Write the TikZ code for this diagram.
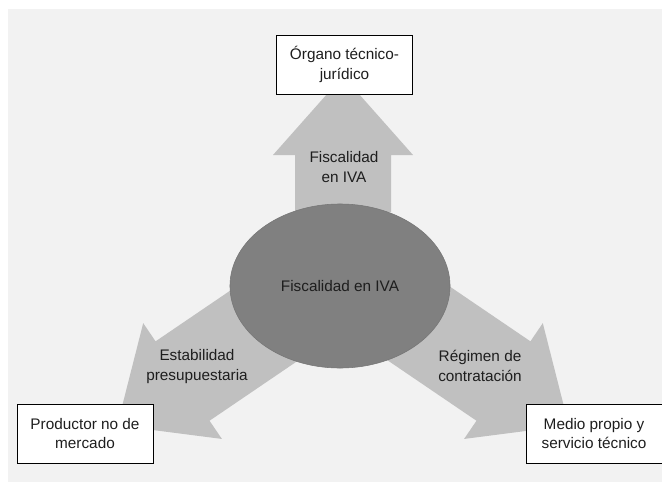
\documentclass[tikz,border=0pt]{standalone}
\usepackage{fontspec}
\setmainfont{Liberation Sans}
\usetikzlibrary{shapes.geometric}
\definecolor{paneback}{RGB}{242,242,242}
\definecolor{flowgray}{RGB}{192,192,192}
\definecolor{hubgray}{RGB}{128,128,128}
\definecolor{inkgray}{RGB}{30,30,30}

\begin{document}
\begin{tikzpicture}[x=0.025cm, y=0.025cm,
  every node/.style={font=\fontsize{10.9}{14.2}\selectfont, text=inkgray, align=center},
  entity/.style={draw=black, fill=white, line width=0.6pt, minimum width=3.4cm, minimum height=1.475cm, inner sep=2pt},
  flow/.style={fill=flowgray, draw=none}]

\useasboundingbox (0,0) rectangle (662,482);
\fill[white] (0,0) rectangle (662,482);
\fill[paneback] (8,0) rectangle (662,473);

%% block arrows (angle / distance of the head base)
\coordinate (axis) at (343,210);
\foreach \ang/\base in {90/117, 214.2/194, 325.8/194}{
  \fill[flow, shift={(axis)}, rotate=\ang]
    (60,-48) -- (\base,-48) -- (\base,-70) -- ({\base+79},0)
    -- (\base,70) -- (\base,48) -- (60,48) -- cycle;
}

%% hub
\node[ellipse, fill=hubgray, draw=hubgray!92!black, minimum width=5.5cm, minimum height=4.1cm] (hub) at (340,196) {Fiscalidad en IVA};

%% boxes
\node[entity] (organo)    at (344.5,417.5) {Órgano técnico-\\jurídico};
\node[entity] (productor) at (85,48.5)     {Productor no de\\mercado};
\node[entity] (medio)     at (594,48.5)    {Medio propio y\\servicio técnico};

%% arrow labels
\node (lblfiscal)  at (344,314.5) {Fiscalidad\\en IVA};
\node (lblestab)   at (197,115)   {Estabilidad\\presupuestaria};
\node (lblregimen) at (480,116)   {Régimen de\\contratación};
\end{tikzpicture}
\end{document}
